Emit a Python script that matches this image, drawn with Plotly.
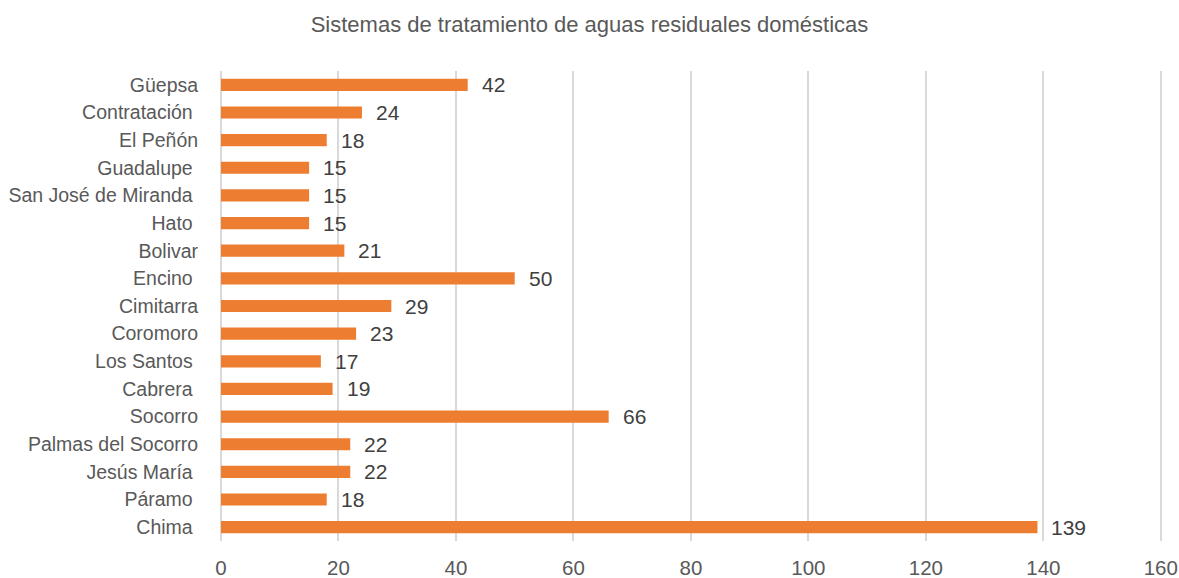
import plotly.graph_objects as go

# Municipalities (top to bottom as displayed) and number of systems
municipios = [
    "Güepsa", "Contratación ", "El Peñón", "Guadalupe ", "San José de Miranda ",
    "Hato ", "Bolivar", "Encino ", "Cimitarra", "Coromoro", "Los Santos ",
    "Cabrera ", "Socorro", "Palmas del Socorro", "Jesús María ", "Páramo ", "Chima ",
]
sistemas = [42, 24, 18, 15, 15, 15, 21, 50, 29, 23, 17, 19, 66, 22, 22, 18, 139]

x_ticks = [0, 20, 40, 60, 80, 100, 120, 140, 160]

FONT = "Liberation Sans Narrow, Arial Narrow, Liberation Sans, Arial, sans-serif"
ORANGE = "#ED7D31"

# Keep trailing spaces visible in category labels
labels = [m[:-1] + "\u00a0" if m.endswith(" ") else m for m in municipios]

fig = go.Figure(
    go.Bar(
        x=sistemas,
        y=labels,
        orientation="h",
        marker=dict(color=ORANGE, line=dict(width=0)),
        width=0.44,
        hoverinfo="x+y",
    )
)

# Value labels to the right of each bar
for lab, v in zip(labels, sistemas):
    fig.add_annotation(
        x=v, y=lab, text=str(v), showarrow=False,
        xanchor="left", yanchor="middle", xshift=12, yshift=0,
        font=dict(family=FONT, size=21, color="#404040"),
    )

fig.update_layout(
    width=1179, height=578,
    margin=dict(l=221, r=17, t=71, b=37),
    paper_bgcolor="white", plot_bgcolor="white",
    title=dict(
        text="Sistemas de tratamiento de aguas residuales domésticas",
        x=0.5, xanchor="center", y=1 - 24 / 578, yanchor="middle",
        font=dict(family=FONT, size=22, color="#595959"),
    ),
    showlegend=False,
    bargap=0.56,
)

fig.update_xaxes(
    # small overshoot so the gridline at 160 is still drawn
    range=[0, 160.2], tickvals=x_ticks, ticktext=[str(t) for t in x_ticks],
    automargin=False,
    showgrid=True, gridcolor="#D9D9D9", gridwidth=1.5,
    zeroline=True, zerolinecolor="#D9D9D9", zerolinewidth=1.5,
    showline=False, ticks="outside", ticklen=8, tickcolor="rgba(0,0,0,0)",
    tickfont=dict(family=FONT, size=20.5, color="#595959"),
)
fig.update_yaxes(
    categoryorder="array", categoryarray=labels[::-1],
    automargin=False,
    showgrid=False, zeroline=False, showline=False,
    ticks="outside", ticklen=18, tickcolor="rgba(0,0,0,0)",
    tickfont=dict(family=FONT, size=19.5, color="#595959"),
)

fig.write_html("out.html")
